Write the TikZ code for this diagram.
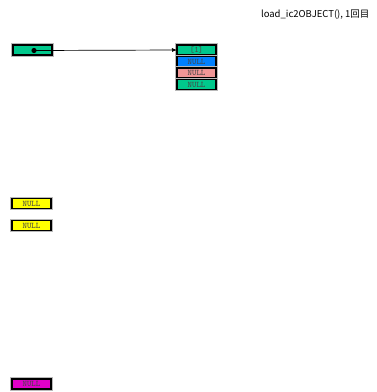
\documentclass[tikz,border=0pt]{standalone}
\usepackage{fontspec}
\setmainfont{Liberation Sans}
\newfontfamily\cjk{Noto Sans CJK JP}
\usetikzlibrary{arrows.meta}
\definecolor{cgreen}{RGB}{0,200,140}
\definecolor{cblue}{RGB}{0,128,255}
\definecolor{cpink}{RGB}{240,150,150}
\definecolor{cyellow}{RGB}{255,255,0}
\definecolor{cmag}{RGB}{224,0,200}
\definecolor{ctxt}{RGB}{70,70,70}
\tikzset{
  cell/.style={draw=black, line width=1.5pt, minimum width=39pt, minimum height=10pt,
    inner sep=0pt, font=\ttfamily\fontsize{8.5}{9}\selectfont, text=ctxt,
    anchor=north west, outer sep=0pt,
    preaction={draw=gray!55, line width=3.2pt}},
  conn/.style={line width=0.7pt, -{Latex[length=5pt,width=4pt]}},
}
\begin{document}
\begin{tikzpicture}[x=1pt,y=-1pt]
\useasboundingbox (0,0) rectangle (376,392);
\node[font=\cjk\fontsize{9.5}{11}\selectfont, anchor=east] (title) at (373,15) {load\_ic2OBJECT(),\ 1回目};
\node[cell, fill=cgreen] (ptr) at (13,45) {};
\node[cell, fill=cgreen] (s0) at (177,45) {[1]};
\node[cell, fill=cblue] (s1) at (177,56.5) {NULL};
\node[cell, fill=cpink] (s2) at (177,68) {NULL};
\node[cell, fill=cgreen] (s3) at (177,79.5) {NULL};
\node[cell, fill=cyellow] (y1) at (12,198.5) {NULL};
\node[cell, fill=cyellow] (y2) at (12,220.5) {NULL};
\node[cell, fill=cmag] (m1) at (12,379) {NULL};
\coordinate (dot) at (34,50.5);
\fill (dot) circle (2.6pt);
\draw[conn] (dot) -- (s0.west);
\end{tikzpicture}
\end{document}
